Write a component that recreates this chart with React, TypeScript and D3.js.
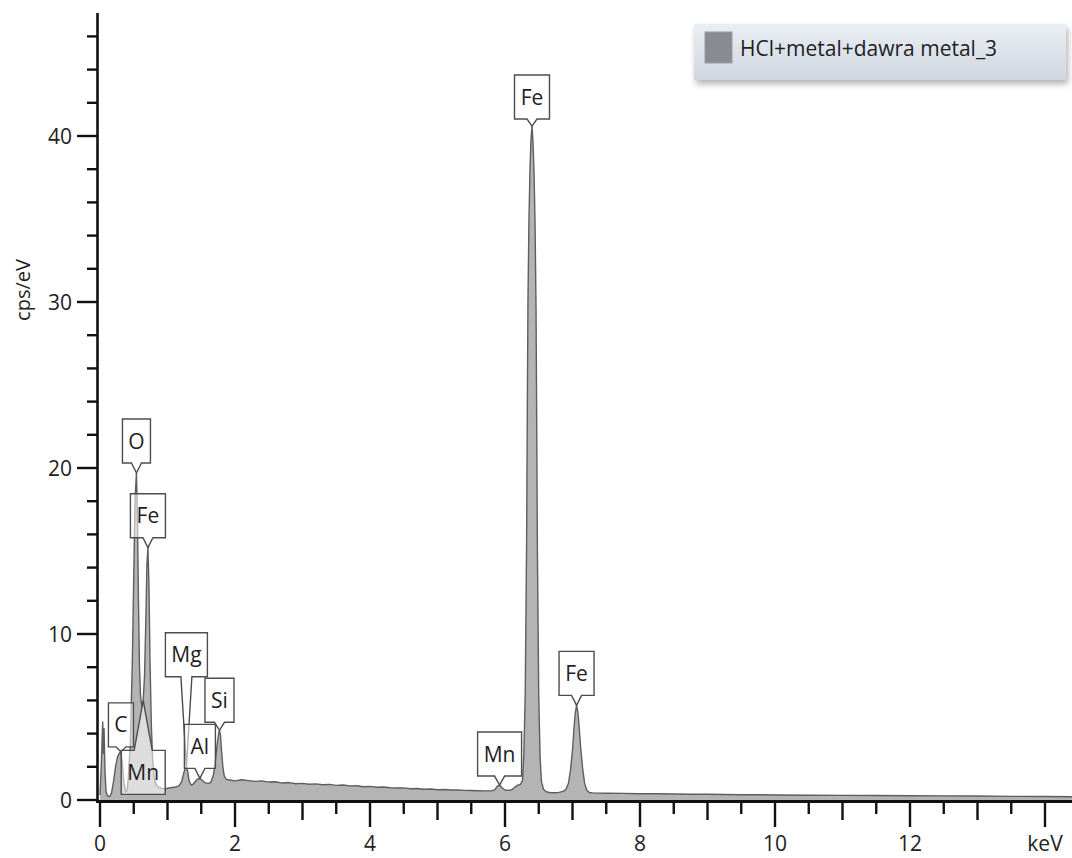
import React from 'react';
import * as d3 from 'd3';

// EDS spectrum: [energy keV, intensity cps/eV]
const lowEnergy: [number, number][] = [
  [0.0, 0.3], [0.02, 2.2], [0.04, 4.7], [0.05, 2.8], [0.06, 4.3], [0.075, 1.6],
  [0.09, 0.5], [0.11, 0.25], [0.14, 0.2], [0.17, 0.4], [0.2, 1.1], [0.23, 2.0],
  [0.26, 2.6], [0.29, 2.85], [0.31, 2.9], [0.33, 2.3], [0.355, 1.0], [0.38, 0.5],
  [0.4, 0.55], [0.42, 1.3], [0.45, 3.5], [0.48, 8.5], [0.5, 13.5], [0.52, 18.2],
  [0.54, 19.7], [0.555, 17.0], [0.57, 12.0], [0.585, 8.0], [0.6, 6.3], [0.62, 5.6],
  [0.64, 6.0], [0.66, 7.5], [0.68, 11.0], [0.695, 14.2], [0.71, 15.2], [0.725, 13.0],
  [0.74, 8.6], [0.76, 4.6], [0.78, 2.4], [0.8, 1.4], [0.83, 0.95], [0.87, 0.75],
  [0.92, 0.7], [0.97, 0.68], [1.02, 0.72], [1.07, 0.75], [1.12, 0.78], [1.17, 0.85],
  [1.21, 1.1], [1.24, 1.6], [1.26, 1.9], [1.28, 2.0], [1.3, 1.7], [1.32, 1.15],
  [1.35, 0.9], [1.38, 0.95], [1.41, 1.1], [1.44, 1.25], [1.48, 1.3], [1.51, 1.2],
  [1.55, 1.05], [1.6, 1.0], [1.64, 1.05], [1.68, 1.5], [1.71, 2.4], [1.74, 3.5],
  [1.76, 4.05], [1.77, 4.2], [1.785, 3.9], [1.8, 3.0], [1.82, 2.0], [1.84, 1.45],
  [1.87, 1.25], [1.9, 1.22],
];

const background: [number, number][] = [
  [2.0, 1.15], [2.1, 1.22], [2.2, 1.17], [2.3, 1.12], [2.4, 1.15], [2.5, 1.08],
  [2.6, 1.1], [2.7, 1.02], [2.8, 1.05], [2.9, 0.98], [3.0, 1.0], [3.1, 0.95],
  [3.2, 0.97], [3.3, 0.92], [3.4, 0.94], [3.5, 0.88], [3.6, 0.9], [3.7, 0.85],
  [3.8, 0.86], [3.9, 0.8], [4.0, 0.82], [4.1, 0.77], [4.2, 0.78], [4.3, 0.74],
  [4.4, 0.72], [4.5, 0.73], [4.6, 0.68], [4.7, 0.69], [4.8, 0.65], [4.9, 0.66],
  [5.0, 0.62], [5.1, 0.63], [5.2, 0.6], [5.3, 0.6], [5.4, 0.58], [5.5, 0.57],
  [5.6, 0.56], [5.7, 0.55], [5.8, 0.55],
];

const ironK: [number, number][] = [
  [5.85, 0.62], [5.88, 0.8], [5.92, 0.9], [5.96, 0.72], [6.0, 0.6], [6.05, 0.58],
  [6.1, 0.62], [6.14, 0.75], [6.18, 0.88], [6.23, 0.95], [6.26, 1.2], [6.28, 2.8],
  [6.3, 6.5], [6.32, 15.5], [6.33, 23.0], [6.34, 30.0], [6.355, 35.0], [6.37, 38.0],
  [6.385, 39.8], [6.4, 40.6], [6.415, 39.6], [6.43, 37.8], [6.445, 34.8], [6.46, 29.5],
  [6.47, 22.5], [6.48, 15.0], [6.5, 6.2], [6.52, 2.6], [6.54, 1.1], [6.57, 0.65],
  [6.61, 0.5], [6.66, 0.45], [6.73, 0.44], [6.8, 0.46], [6.86, 0.52], [6.9, 0.62],
  [6.94, 1.0], [6.97, 1.8], [7.0, 3.0], [7.02, 4.2], [7.04, 5.2], [7.06, 5.7],
  [7.08, 5.3], [7.1, 4.3], [7.12, 3.2], [7.15, 1.9], [7.18, 1.0], [7.21, 0.6],
  [7.25, 0.45],
];

const highEnergy: [number, number][] = [
  [7.3, 0.43], [7.5, 0.41], [7.75, 0.4], [8.0, 0.38], [8.25, 0.38], [8.5, 0.36],
  [8.75, 0.35], [9.0, 0.35], [9.25, 0.33], [9.5, 0.32], [9.75, 0.32], [10.0, 0.3],
  [10.5, 0.29], [11.0, 0.28], [11.5, 0.27], [12.0, 0.26], [12.5, 0.25], [13.0, 0.24],
  [13.5, 0.22], [14.0, 0.21], [14.4, 0.2],
];

const spectrum = [...lowEnergy, ...background, ...ironK, ...highEnergy];

// Identified lines: element, energy (keV), peak intensity (cps/eV)
const peakLabels = [
  { el: 'C', keV: 0.31, cps: 2.9 },
  { el: 'O', keV: 0.54, cps: 19.7 },
  { el: 'Fe', keV: 0.71, cps: 15.2 },
  { el: 'Mn', keV: 0.64, cps: 6.0 },
  { el: 'Mg', keV: 1.28, cps: 2.0 },
  { el: 'Si', keV: 1.77, cps: 4.2 },
  { el: 'Al', keV: 1.48, cps: 1.3 },
  { el: 'Mn', keV: 5.92, cps: 0.9 },
  { el: 'Fe', keV: 6.4, cps: 40.6 },
  { el: 'Fe', keV: 7.06, cps: 5.7 },
];

// Where each tag sits relative to its peak (gap in px; below = tag under the peak)
const labelLayout = [
  { gap: 5, below: false, notch: 5 },
  { gap: 10, below: false, notch: 5 },
  { gap: 10, below: false, notch: 5 },
  { gap: 50, below: true, notch: 9 },
  { gap: 90, below: false, notch: 5.5 },
  { gap: 8, below: false, notch: 5 },
  { gap: 10, below: false, notch: 5 },
  { gap: 9, below: false, notch: 5 },
  { gap: 7, below: false, notch: 5 },
  { gap: 10, below: false, notch: 5 },
];

const yTicks = [0, 10, 20, 30, 40];
const xTicks = [0, 2, 4, 6, 8, 10, 12];
const xUnit = 'keV';
const yUnit = 'cps/eV';
const seriesName = 'HCl+metal+dawra metal_3';

const W = 1072;
const H = 858;
const FONT = '"Open Sans", "Noto Sans", sans-serif';
const FS = 21;

function measure(text: string, size: number): number {
  const c = document.createElement('canvas').getContext('2d');
  if (!c) return text.length * size * 0.55;
  c.font = `${size}px "Open Sans"`;
  return c.measureText(text).width;
}

export default function App() {
  const x = d3.scaleLinear().domain([0, 14]).range([100, 1045]);
  const y = d3.scaleLinear().domain([0, 40]).range([800, 136]);

  const area = d3
    .area<[number, number]>()
    .x((d) => x(d[0]))
    .y0(y(0))
    .y1((d) => y(d[1]));
  const line = d3
    .line<[number, number]>()
    .x((d) => x(d[0]))
    .y((d) => y(d[1]));

  const minorX = d3.range(0, 14.01, 0.5);
  const minorY = d3.range(0, 47, 2);

  const boxH = 44;
  const xLabelY = 843;

  return (
    <svg
      width={W}
      height={H}
      viewBox={`0 0 ${W} ${H}`}
      style={{ position: 'absolute', left: 0, top: 0, background: '#fff' }}
      fontFamily={FONT}
    >
      <defs>
        <linearGradient id="legendBg" x1="0" y1="0" x2="0" y2="1">
          <stop offset="0" stopColor="#eaeff5" />
          <stop offset="1" stopColor="#cfd6de" />
        </linearGradient>
        <filter id="legendShadow" x="-10%" y="-30%" width="120%" height="170%">
          <feDropShadow dx="2" dy="4" stdDeviation="3" floodColor="#000" floodOpacity="0.3" />
        </filter>
      </defs>

      {/* spectrum */}
      <path d={area(spectrum) ?? ''} fill="#b4b4b4" />
      <path d={line(spectrum) ?? ''} fill="none" stroke="#5e5e5e" strokeWidth={1.4} strokeLinejoin="round" />

      {/* peak tags */}
      {peakLabels.map((p, i) => {
        const L = labelLayout[i];
        const tx = x(p.keV);
        const ty = y(p.cps);
        const w = Math.round(measure(p.el, FS) + 12);
        const left = tx - w / 2;
        const right = tx + w / 2;
        let d: string;
        let cy: number;
        if (L.below) {
          const top = ty + L.gap;
          const bottom = top + boxH;
          d = `M${left},${top}H${tx - L.notch}L${tx},${ty}L${tx + L.notch},${top}H${right}V${bottom}H${left}Z`;
          cy = (top + bottom) / 2;
        } else {
          const bottom = ty - L.gap;
          const top = bottom - boxH;
          d = `M${left},${top}H${right}V${bottom}H${tx + L.notch}L${tx},${ty}L${tx - L.notch},${bottom}H${left}Z`;
          cy = (top + bottom) / 2;
        }
        return (
          <g key={i}>
            <path d={d} fill="#fff" fillOpacity={0.55} stroke="#4d4d4d" strokeWidth={1.4} strokeLinejoin="miter" />
            <text x={tx} y={cy} dy="0.36em" textAnchor="middle" fontSize={FS} fill="#1e1e1e">
              {p.el}
            </text>
          </g>
        );
      })}

      {/* y axis */}
      <line x1={97.5} y1={13} x2={97.5} y2={803} stroke="#111" strokeWidth={2.6} />
      {minorY.map((v) => (
        <line
          key={v}
          x1={v % 10 === 0 ? 77 : 87}
          x2={97}
          y1={y(v)}
          y2={y(v)}
          stroke="#111"
          strokeWidth={2.4}
        />
      ))}
      {yTicks.map((v) => (
        <text key={v} x={72} y={y(v)} dy="0.36em" textAnchor="end" fontSize={FS} fill="#222">
          {v}
        </text>
      ))}
      <text
        transform={`translate(23,${y(0) - 510}) rotate(-90)`}
        textAnchor="middle"
        dy="0.36em"
        fontSize={FS - 1}
        fill="#222"
      >
        {yUnit}
      </text>

      {/* x axis */}
      <line x1={96} y1={801.5} x2={W} y2={801.5} stroke="#111" strokeWidth={3} />
      {minorX.map((v) => {
        const len = v % 2 === 0 ? 25 : v % 1 === 0 ? 18 : 12;
        return (
          <line key={v} x1={x(v)} x2={x(v)} y1={802} y2={802 + len} stroke="#111" strokeWidth={2.4} />
        );
      })}
      {xTicks.map((v) => (
        <text key={v} x={x(v)} y={xLabelY} dy="0.36em" textAnchor="middle" fontSize={FS} fill="#222">
          {v}
        </text>
      ))}
      <text x={x(14)} y={xLabelY} dy="0.36em" textAnchor="middle" fontSize={FS} fill="#222">
        {xUnit}
      </text>

      {/* legend */}
      <g filter="url(#legendShadow)">
        <rect x={694} y={24} width={372} height={56} fill="url(#legendBg)" />
      </g>
      <rect x={705} y={32} width={27} height={31} fill="#898b90" stroke="#9a9ca0" strokeWidth={1} />
      <text x={740} y={48} dy="0.36em" fontSize={FS} fill="#1e1e1e">
        {seriesName}
      </text>
    </svg>
  );
}
